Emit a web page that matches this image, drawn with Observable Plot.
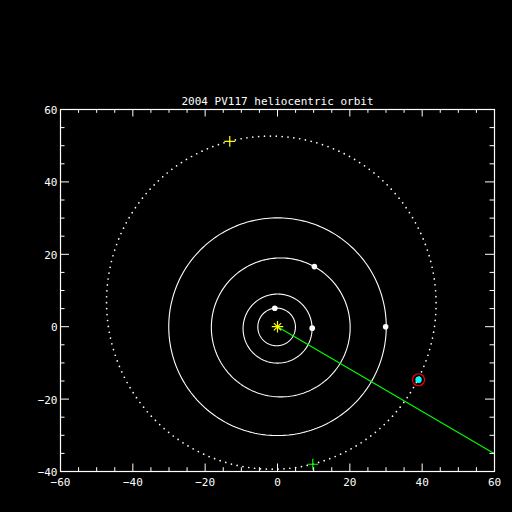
<!DOCTYPE html>
<html><head><meta charset="utf-8">
<script src="https://cdn.jsdelivr.net/npm/d3@7"></script>
<script src="https://cdn.jsdelivr.net/npm/@observablehq/plot@0.6"></script>
<style>html,body{margin:0;padding:0;background:#000;}</style>
</head><body><div id="chart"></div>
<script>
const title = "2004 PV117 heliocentric orbit";
const xTicks = [-60, -40, -20, 0, 20, 40, 60];
const yTicks = [-40, -20, 0, 20, 40, 60];
const xMinor = [-55,-50,-45,-35,-30,-25,-15,-10,-5,5,10,15,25,30,35,45,50,55];
const yMinor = [-35,-30,-25,-15,-10,-5,5,10,15,25,30,35,45,50,55];

// planet orbits (semi-major axis, orbit centre offset) and current positions
const planetNames = ["Jupiter", "Saturn", "Uranus", "Neptune"];
const orbitA  = [5.20, 9.54, 19.19, 30.07];
const orbitCx = [-0.24, 0.02, 0.90, 0.00];
const orbitCy = [-0.06, -0.52, -0.20, 0.00];
const planetX = [-0.75, 9.60, 10.20, 29.90];
const planetY = [5.10, -0.40, 16.60, 0.00];

// 2004 PV117 orbit parameters
const objA = 46.05, objE = 0.149;
const objPeriDir = [0.25, -0.968];
const objX = [39.0], objY = [-14.65];
const aphX = [-13.2], aphY = [51.2];
const periX = [9.76], periY = [-38.0];
const lineX = [0, 60], lineY = [0, -35.1];
const sunX = [0], sunY = [0];

const mL = 60, mR = 18, mT = 109, mB = 41, W = 512, Hh = 512;
const fw = W - mL - mR, fh = Hh - mT - mB;

// build orbit geometry
const orbitPts = [];
planetNames.forEach((n, i) => {
  for (let k = 0; k <= 240; k++) {
    const t = 2 * Math.PI * k / 240;
    orbitPts.push({name: n, x: orbitCx[i] + orbitA[i] * Math.cos(t), y: orbitCy[i] + orbitA[i] * Math.sin(t)});
  }
});
const objB = objA * Math.sqrt(1 - objE * objE);
const q = [-objPeriDir[1], objPeriDir[0]];
const objOrbit = [];
for (let k = 0; k < 176; k++) {
  const E = 2 * Math.PI * k / 176;
  const u = objA * (Math.cos(E) - objE), v = objB * Math.sin(E);
  objOrbit.push({x: u * objPeriDir[0] + v * q[0], y: u * objPeriDir[1] + v * q[1]});
}
const planets = planetNames.map((n, i) => ({name: n, x: planetX[i], y: planetY[i]}));
const greenLine = lineX.map((x, i) => ({x, y: lineY[i]}));
const obj = objX.map((x, i) => ({x, y: objY[i]}));
const sun = sunX.map((x, i) => ({x, y: sunY[i]}));
const fmt = d => (d < 0 ? "\u2212" : "") + Math.abs(d);

const chart = Plot.plot({
  width: W, height: Hh,
  marginLeft: mL, marginRight: mR, marginTop: mT, marginBottom: mB,
  x: {domain: [-60, 60]},
  y: {domain: [-40, 60]},
  style: {background: "#000", color: "#fff", fontFamily: "'DejaVu Sans Mono', monospace", fontSize: "11px"},
  marks: [
    Plot.line(orbitPts, {x: "x", y: "y", z: "name", stroke: "#fff", strokeWidth: 1.1}),
    Plot.dot(objOrbit, {x: "x", y: "y", r: 0.85, fill: "#fff", stroke: null}),
    Plot.line(greenLine, {x: "x", y: "y", stroke: "#00ff00", strokeWidth: 1.1}),
    Plot.dot(planets, {x: "x", y: "y", r: 2.8, fill: "#fff"}),
    Plot.dot(obj, {x: "x", y: "y", r: 6, stroke: "#ff0000", strokeWidth: 1.2}),
    Plot.dot(obj, {x: "x", y: "y", r: 3.2, fill: "#00ffff"}),
    Plot.dot(sun, {x: "x", y: "y", symbol: "plus", r: 3.8, stroke: "#ffff00", strokeWidth: 1.2}),
    Plot.dot(sun, {x: "x", y: "y", symbol: "times", r: 3.4, stroke: "#ffff00", strokeWidth: 1.2}),
    Plot.dot(aphX.map((x, i) => ({x, y: aphY[i]})), {x: "x", y: "y", symbol: "plus", r: 3.6, stroke: "#ffff00", strokeWidth: 1.2}),
    Plot.dot(periX.map((x, i) => ({x, y: periY[i]})), {x: "x", y: "y", symbol: "plus", r: 3.6, stroke: "#00ff00", strokeWidth: 1.2}),
    Plot.frame({stroke: "#fff", strokeWidth: 1.2}),
    Plot.ruleX(xTicks, {x: d => d, stroke: "#fff", insetTop: fh - 7.5}),
    Plot.ruleX(xTicks, {x: d => d, stroke: "#fff", insetBottom: fh - 7.5}),
    Plot.ruleX(xMinor, {x: d => d, stroke: "#fff", insetTop: fh - 3.8}),
    Plot.ruleX(xMinor, {x: d => d, stroke: "#fff", insetBottom: fh - 3.8}),
    Plot.ruleY(yTicks, {y: d => d, stroke: "#fff", insetRight: fw - 9}),
    Plot.ruleY(yTicks, {y: d => d, stroke: "#fff", insetLeft: fw - 9}),
    Plot.ruleY(yMinor, {y: d => d, stroke: "#fff", insetRight: fw - 4.5}),
    Plot.ruleY(yMinor, {y: d => d, stroke: "#fff", insetLeft: fw - 4.5}),
    Plot.axisX(xTicks, {tickSize: 0, tickPadding: 7, tickFormat: fmt, label: null, fill: "#fff", fontSize: 11}),
    Plot.axisY(yTicks, {tickSize: 0, tickPadding: 3, tickFormat: fmt, label: null, fill: "#fff", fontSize: 11, dy: 1}),
    Plot.text([title], {text: d => d, frameAnchor: "top", lineAnchor: "bottom", dy: -5, fill: "#fff", fontSize: 11})
  ]
});
document.getElementById("chart").appendChild(chart);
</script>
</body></html>
